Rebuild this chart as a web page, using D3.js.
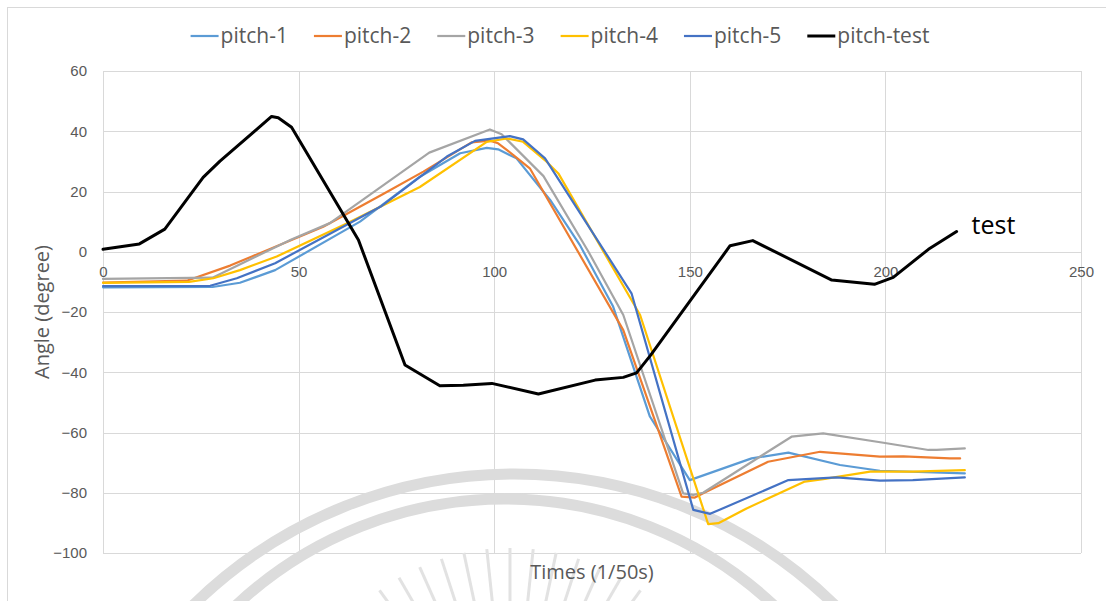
<!DOCTYPE html>
<html>
<head>
<meta charset="utf-8">
<script src="https://cdn.jsdelivr.net/npm/d3@7/dist/d3.min.js"></script>
<style>
    body { margin: 0; background: #fff; }
    svg { display: block; font-family: "Open Sans", "DejaVu Sans", sans-serif; }
    .grid line { stroke: #d9d9d9; stroke-width: 1; }
    .axis text { fill: #595959; font-size: 15px; }
    .axis path, .axis line { display: none; }
    .serie { fill: none; stroke-linejoin: round; stroke-linecap: round; }
</style>
</head>
<body>
<div id="chart"></div>
<script>
/*global d3*/

// series names and colours (Excel default palette)
var names = ["pitch-1", "pitch-2", "pitch-3", "pitch-4", "pitch-5", "pitch-test"];
var colors = ["#5b9bd5", "#ed7d31", "#a5a5a5", "#ffc000", "#4472c4", "#000000"];

// [time, angle] pairs
var pitch1 = [[0, -11.8], [28, -11.7], [35, -10.3], [44, -6.1], [65.7, 10], [81, 24.9], [91.3, 32.7], [98.1, 34.5],
    [101, 34], [105.7, 31], [114.3, 17.2], [122, 2], [130.4, -18.2], [139.8, -54.7], [150, -75.8], [165.8, -68.6],
    [175.2, -66.7], [188.4, -70.8], [198.6, -72.7], [220.3, -73.6]];
var pitch2 = [[0, -10.2], [21.4, -9.6], [32.5, -4.6], [56.3, 8.3], [71.5, 19.1], [81.9, 26.6], [94.2, 36.3], [98.9, 36.9],
    [101, 36], [104.9, 32.1], [109.1, 27.7], [133, -26], [147.9, -81.3], [151.3, -81.6], [153.4, -80.2], [170, -69.7],
    [183.3, -66.4], [198.6, -68], [204.6, -67.9], [216.5, -68.6], [219.1, -68.6]];
var pitch3 = [[0, -9], [28, -8.6], [48, 4], [58, 9.5], [83.4, 32.9], [98.9, 40.6], [101.9, 39], [112.6, 25.1],
    [124.1, 0], [133, -21], [148.3, -80.2], [150.9, -80.7], [153.4, -80], [176, -61.4], [184.1, -60.3], [199.5, -63.4],
    [211, -65.8], [213.1, -65.8], [220.3, -65.3]];
var pitch4 = [[0, -10.3], [22, -10], [28.2, -8.8], [35, -6.1], [44.4, -1.6], [62.3, 9.4], [81, 21.5], [98.1, 36.5],
    [103.2, 37.6], [107.4, 36.5], [113.4, 29.9], [116.4, 26], [137.3, -21], [154.7, -90.4], [157.3, -90.1], [164.5, -85.2],
    [179.4, -76.3], [184.1, -75.5], [196.1, -73], [207, -73], [220.3, -72.5]];
var pitch5 = [[0, -11.4], [27.4, -11.3], [34.2, -8.8], [44, -3.8], [71, 15], [87.9, 31.6], [95.1, 36.8], [104, 38.4],
    [107.4, 37.3], [113, 31], [135.1, -13.8], [150.9, -85.7], [155.2, -87], [175.2, -75.8], [187.5, -74.9], [198.6, -76],
    [207, -75.8], [220.3, -74.9]];
var pitchTest = [[0, 0.8], [9.3, 2.6], [15.8, 7.5], [25.6, 24.7], [29.9, 30.1], [43.1, 44.9], [44.8, 44.5], [48.2, 41.3],
    [65.3, 3.9], [77.2, -37.6], [86.1, -44.5], [92.1, -44.3], [99.4, -43.7], [111.3, -47.2], [125.8, -42.6], [133, -41.7],
    [136.4, -40.2], [140, -34.3], [160.3, 2], [166.1, 3.7], [186.3, -9.4], [197.2, -10.8], [202, -8.5], [211, 0.8],
    [218.2, 6.7]];

var xTicks = [0, 50, 100, 150, 200, 250];
var yTicks = [-100, -80, -60, -40, -20, 0, 20, 40, 60];

(function () {
    "use strict";
    var W = 1106, H = 601,
        margin = {top: 71, right: 25, bottom: 48, left: 103},
        series = [pitch1, pitch2, pitch3, pitch4, pitch5, pitchTest],

        x = d3.scaleLinear().domain([0, 250]).range([margin.left, W - margin.right]),
        y = d3.scaleLinear().domain([-100, 60]).range([H - margin.bottom, margin.top]),

        line = d3.line()
            .x(function (d) { return x(d[0]); })
            .y(function (d) { return y(d[1]); }),

        svg = d3.select("#chart").append("svg")
            .attr("width", W)
            .attr("height", H);

    // outer chart frame
    svg.append("rect")
        .attr("x", 7.5).attr("y", 7.5)
        .attr("width", W + 20).attr("height", H + 20)
        .attr("fill", "none").attr("stroke", "#d9d9d9");

    // grid + plot border
    var grid = svg.append("g").attr("class", "grid");
    grid.selectAll(".h").data(yTicks).enter().append("line")
        .attr("x1", x(0)).attr("x2", x(250))
        .attr("y1", function (d) { return Math.round(y(d)) + 0.5; })
        .attr("y2", function (d) { return Math.round(y(d)) + 0.5; });
    grid.selectAll(".v").data(xTicks).enter().append("line")
        .attr("y1", y(60)).attr("y2", y(-100))
        .attr("x1", function (d) { return Math.round(x(d)) + 0.5; })
        .attr("x2", function (d) { return Math.round(x(d)) + 0.5; });

    // faint seal watermark behind the lines
    var wm = svg.append("g").attr("fill", "none").attr("stroke", "#dcdcdc");
    wm.append("circle").attr("cx", 514).attr("cy", 932).attr("r", 458).attr("stroke-width", 11);
    wm.append("circle").attr("cx", 505).attr("cy", 892).attr("r", 393).attr("stroke-width", 11);
    wm.selectAll(".ray").data(d3.range(-150, -29, 6)).enter().append("line")
        .attr("stroke-width", 3).attr("stroke", "#e2e2e2")
        .attr("x1", function (a) { return 510 + 150 * Math.cos(a * Math.PI / 180); })
        .attr("y1", function (a) { return 770 + 150 * Math.sin(a * Math.PI / 180); })
        .attr("x2", function (a) { return 510 + 222 * Math.cos(a * Math.PI / 180); })
        .attr("y2", function (a) { return 770 + 222 * Math.sin(a * Math.PI / 180); });

    // axes
    svg.append("g")
        .attr("class", "y axis")
        .attr("transform", "translate(" + x(0) + ",0)")
        .call(d3.axisLeft(y).tickValues(yTicks).tickSize(0).tickPadding(16));
    svg.append("g")
        .attr("class", "x axis")
        .attr("transform", "translate(0," + y(0) + ")")
        .call(d3.axisBottom(x).tickValues(xTicks).tickSize(0).tickPadding(15));

    // lines
    svg.append("g").selectAll(".serie")
        .data(series)
        .enter().append("path")
        .attr("class", "serie")
        .attr("stroke", function (d, i) { return colors[i]; })
        .attr("stroke-width", function (d, i) { return i === 5 ? 3 : 2.2; })
        .attr("d", line);

    // label at the end of the test curve
    var last = pitchTest[pitchTest.length - 1];
    svg.append("text")
        .attr("x", x(last[0]) + 15).attr("y", y(last[1]) + 2)
        .attr("font-size", 25).attr("fill", "#000")
        .text("test");

    // axis titles
    svg.append("text")
        .attr("transform", "translate(49," + (y(60) + y(-100)) / 2 + ") rotate(-90)")
        .attr("text-anchor", "middle")
        .attr("font-size", 20).attr("fill", "#595959")
        .text("Angle (degree)");
    svg.append("text")
        .attr("x", (x(0) + x(250)) / 2).attr("y", 579)
        .attr("text-anchor", "middle")
        .attr("font-size", 20).attr("fill", "#595959")
        .text("Times (1/50s)");

    // legend
    var legend = svg.append("g"),
        items = legend.selectAll(".item").data(names).enter().append("g"),
        pos = 0;
    items.append("line")
        .attr("x1", 0).attr("x2", 28).attr("y1", 0).attr("y2", 0)
        .attr("stroke", function (d, i) { return colors[i]; })
        .attr("stroke-width", function (d, i) { return i === 5 ? 3 : 2.2; });
    items.append("text")
        .attr("x", 30).attr("dy", "0.35em")
        .attr("font-size", 21).attr("fill", "#595959")
        .text(function (d) { return d; });
    items.each(function () {
        var w = 30 + this.querySelector("text").getComputedTextLength();
        d3.select(this).attr("transform", "translate(" + pos + ",0)");
        pos += w + 26;
    });
    pos -= 26;
    legend.attr("transform", "translate(" + (560 - pos / 2) + ",36)");
}());
</script>
</body>
</html>
